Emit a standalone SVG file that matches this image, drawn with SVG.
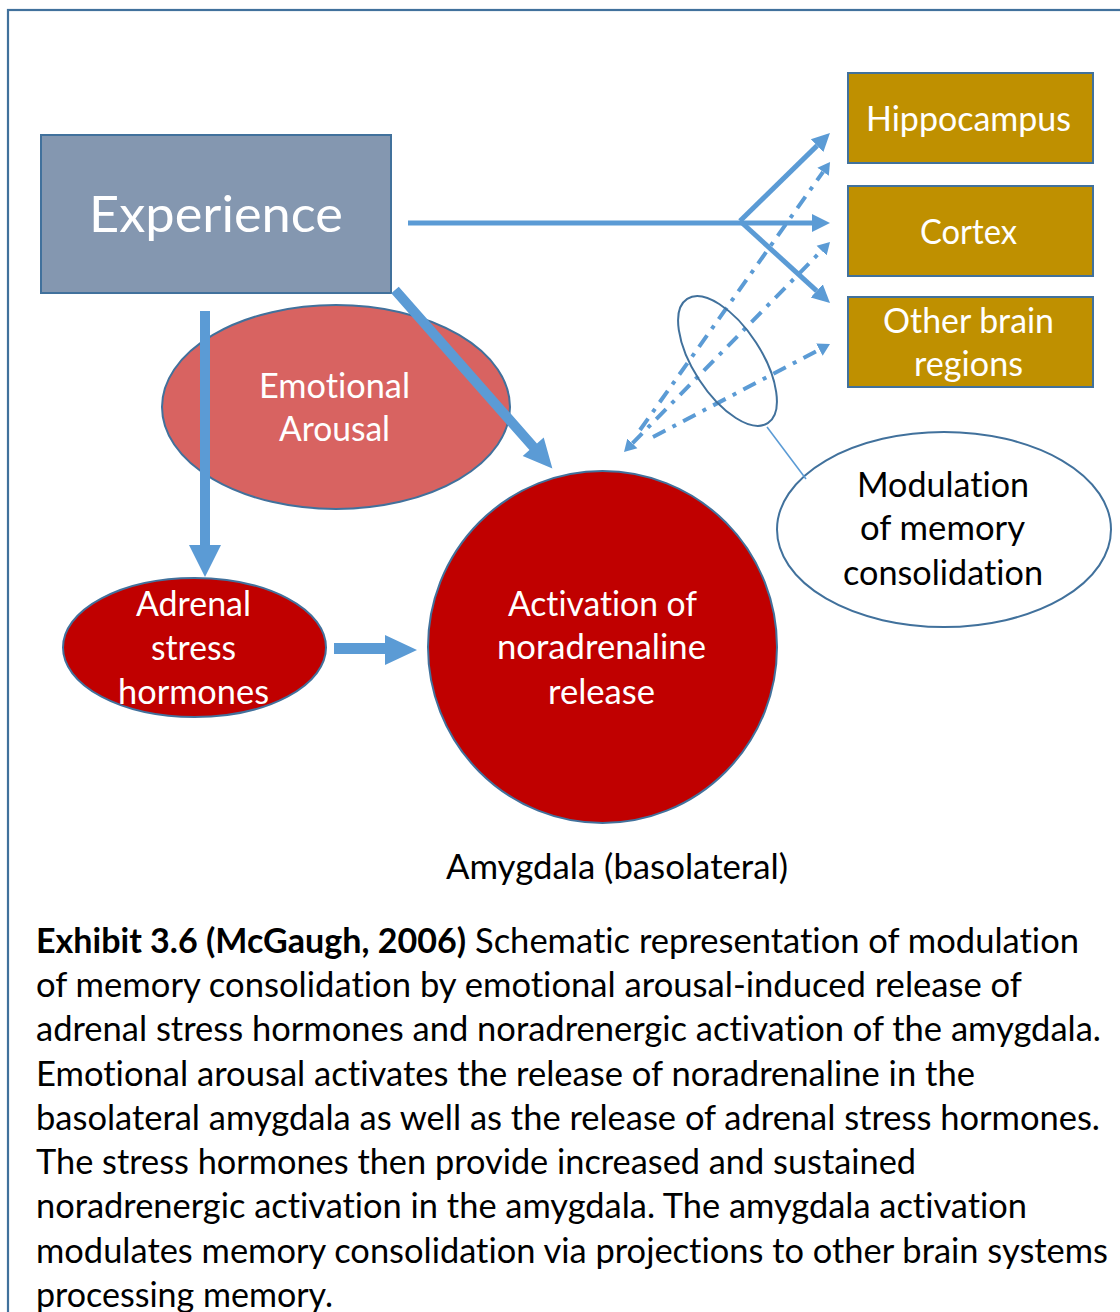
<svg xmlns="http://www.w3.org/2000/svg" width="1120" height="1312" viewBox="0 0 1120 1312">
<style>
  text { font-family: Lato, "Liberation Sans", sans-serif; font-variant-ligatures: none; }
  .w { fill: #ffffff; font-size: 34px; text-anchor: middle; }
  .k { fill: #000000; font-size: 34px; text-anchor: middle; }
  .cap { fill: #000000; font-size: 34px; }
  .b { font-weight: bold; }
  .st { stroke: #41719c; stroke-width: 2; }
  .gold { fill: #bf9000; stroke: #41719c; stroke-width: 2; }
  .blk { fill: #5b9bd5; }
  .ln { fill: none; stroke: #5b9bd5; stroke-width: 5; }
  .dd { fill: none; stroke: #5b9bd5; stroke-width: 4; stroke-dasharray: 14 8 4 8; }
</style>
<defs>
  <marker id="ah" markerUnits="userSpaceOnUse" markerWidth="20" markerHeight="20" refX="0" refY="10" orient="auto-start-reverse" viewBox="0 0 20 20">
    <path d="M0,1 L18,10 L0,19 Z" fill="#5b9bd5"/>
  </marker>
  <marker id="ahs" markerUnits="userSpaceOnUse" markerWidth="14" markerHeight="16" refX="0" refY="8" orient="auto-start-reverse" viewBox="0 0 14 16">
    <path d="M0,1 L12,8 L0,15 Z" fill="#5b9bd5"/>
  </marker>
</defs>

<rect x="8" y="10" width="1140" height="1340" fill="#ffffff" stroke="#41719c" stroke-width="2.2"/>

<g id="emotional-arousal">
  <ellipse cx="336" cy="407" rx="174" ry="102" fill="#d86361" class="st"/>
  <text class="w" x="334.5" y="398" textLength="151" lengthAdjust="spacingAndGlyphs">Emotional</text>
  <text class="w" x="334.5" y="441" textLength="111" lengthAdjust="spacingAndGlyphs">Arousal</text>
</g>

<g id="experience">
  <rect x="41" y="135" width="350" height="158" fill="#8497b0" class="st"/>
  <text class="w" x="216" y="232" style="font-size:50px" textLength="254" lengthAdjust="spacingAndGlyphs">Experience</text>
</g>

<g id="hippocampus">
  <rect x="848" y="73" width="245" height="90" class="gold"/>
  <text class="w" x="968.5" y="131" textLength="205" lengthAdjust="spacingAndGlyphs">Hippocampus</text>
</g>
<g id="cortex">
  <rect x="848" y="186" width="245" height="90" class="gold"/>
  <text class="w" x="968.5" y="244" textLength="97" lengthAdjust="spacingAndGlyphs">Cortex</text>
</g>
<g id="other-brain-regions">
  <rect x="848" y="297" width="245" height="90" class="gold"/>
  <text class="w" x="968.5" y="333" textLength="171" lengthAdjust="spacingAndGlyphs">Other brain</text>
  <text class="w" x="968.5" y="376" textLength="109" lengthAdjust="spacingAndGlyphs">regions</text>
</g>

<g id="adrenal-stress-hormones">
  <ellipse cx="194.5" cy="647.5" rx="131.5" ry="69.5" fill="#c00000" class="st"/>
  <text class="w" x="193.5" y="616" textLength="115" lengthAdjust="spacingAndGlyphs">Adrenal</text>
  <text class="w" x="193.5" y="660" textLength="85" lengthAdjust="spacingAndGlyphs">stress</text>
  <text class="w" x="193.5" y="704" textLength="151" lengthAdjust="spacingAndGlyphs">hormones</text>
</g>

<g id="noradrenaline-release">
  <ellipse cx="602.5" cy="647" rx="174.5" ry="176" fill="#c00000" class="st"/>
  <text class="w" x="602.5" y="616" textLength="189" lengthAdjust="spacingAndGlyphs">Activation of</text>
  <text class="w" x="601.5" y="659" textLength="209" lengthAdjust="spacingAndGlyphs">noradrenaline</text>
  <text class="w" x="601.5" y="704" textLength="107" lengthAdjust="spacingAndGlyphs">release</text>
</g>

<g id="modulation">
  <ellipse cx="944" cy="529.5" rx="167" ry="97.5" fill="#ffffff" class="st"/>
  <text class="k" x="943" y="497" textLength="172" lengthAdjust="spacingAndGlyphs">Modulation</text>
  <text class="k" x="942.5" y="540" textLength="165" lengthAdjust="spacingAndGlyphs">of memory</text>
  <text class="k" x="943" y="585" textLength="200" lengthAdjust="spacingAndGlyphs">consolidation</text>
</g>

<g id="connectors">
  <polygon class="blk" transform="translate(205,311) rotate(90)" points="0,-5 234,-5 234,-16 266,0 234,16 234,5 0,5"/>
  <polygon class="blk" transform="translate(395,290) rotate(48.6)" points="0,-5 209,-5 209,-14 238,0 209,14 209,5 0,5"/>
  <polygon class="blk" points="334,643 385,643 385,635 417,650 385,665 385,654 334,654"/>
  <path class="ln" d="M408,223 L812,223" marker-end="url(#ah)"/>
  <path class="ln" d="M740,221 L817.1,145.6" marker-end="url(#ah)"/>
  <path class="ln" d="M740,221 L816.7,290.9" marker-end="url(#ah)"/>
  <path class="dd" d="M640,430 L823.1,171.8" marker-end="url(#ahs)"/>
  <path class="dd" d="M632.4,443.4 L821.6,250.6" marker-start="url(#ahs)" marker-end="url(#ahs)"/>
  <path class="dd" d="M653,437 L819.4,349.6" marker-end="url(#ahs)"/>
  <ellipse cx="727.5" cy="361" rx="34" ry="74" transform="rotate(-33 727.5 361)" fill="none" class="st"/>
  <line x1="767" y1="427" x2="806" y2="479" stroke="#5b9bd5" stroke-width="1.5"/>
</g>

<text class="k" x="617" y="879" textLength="342" lengthAdjust="spacingAndGlyphs">Amygdala (basolateral)</text>

<g id="caption">
  <text class="cap b" x="36" y="953" textLength="430" lengthAdjust="spacingAndGlyphs">Exhibit 3.6 (McGaugh, 2006)</text>
  <text class="cap" x="475" y="953" textLength="604" lengthAdjust="spacingAndGlyphs">Schematic representation of modulation</text>
  <text class="cap" x="36" y="997" textLength="986" lengthAdjust="spacingAndGlyphs">of memory consolidation by emotional arousal-induced release of</text>
  <text class="cap" x="36" y="1041" textLength="1065" lengthAdjust="spacingAndGlyphs">adrenal stress hormones and noradrenergic activation of the amygdala.</text>
  <text class="cap" x="36" y="1086" textLength="939" lengthAdjust="spacingAndGlyphs">Emotional arousal activates the release of noradrenaline in the</text>
  <text class="cap" x="36" y="1130" textLength="1064" lengthAdjust="spacingAndGlyphs">basolateral amygdala as well as the release of adrenal stress hormones.</text>
  <text class="cap" x="36" y="1174" textLength="880" lengthAdjust="spacingAndGlyphs">The stress hormones then provide increased and sustained</text>
  <text class="cap" x="36" y="1218" textLength="991" lengthAdjust="spacingAndGlyphs">noradrenergic activation in the amygdala. The amygdala activation</text>
  <text class="cap" x="36" y="1263" textLength="1072" lengthAdjust="spacingAndGlyphs">modulates memory consolidation via projections to other brain systems</text>
  <text class="cap" x="36" y="1307" textLength="297" lengthAdjust="spacingAndGlyphs">processing memory.</text>
</g>
</svg>
